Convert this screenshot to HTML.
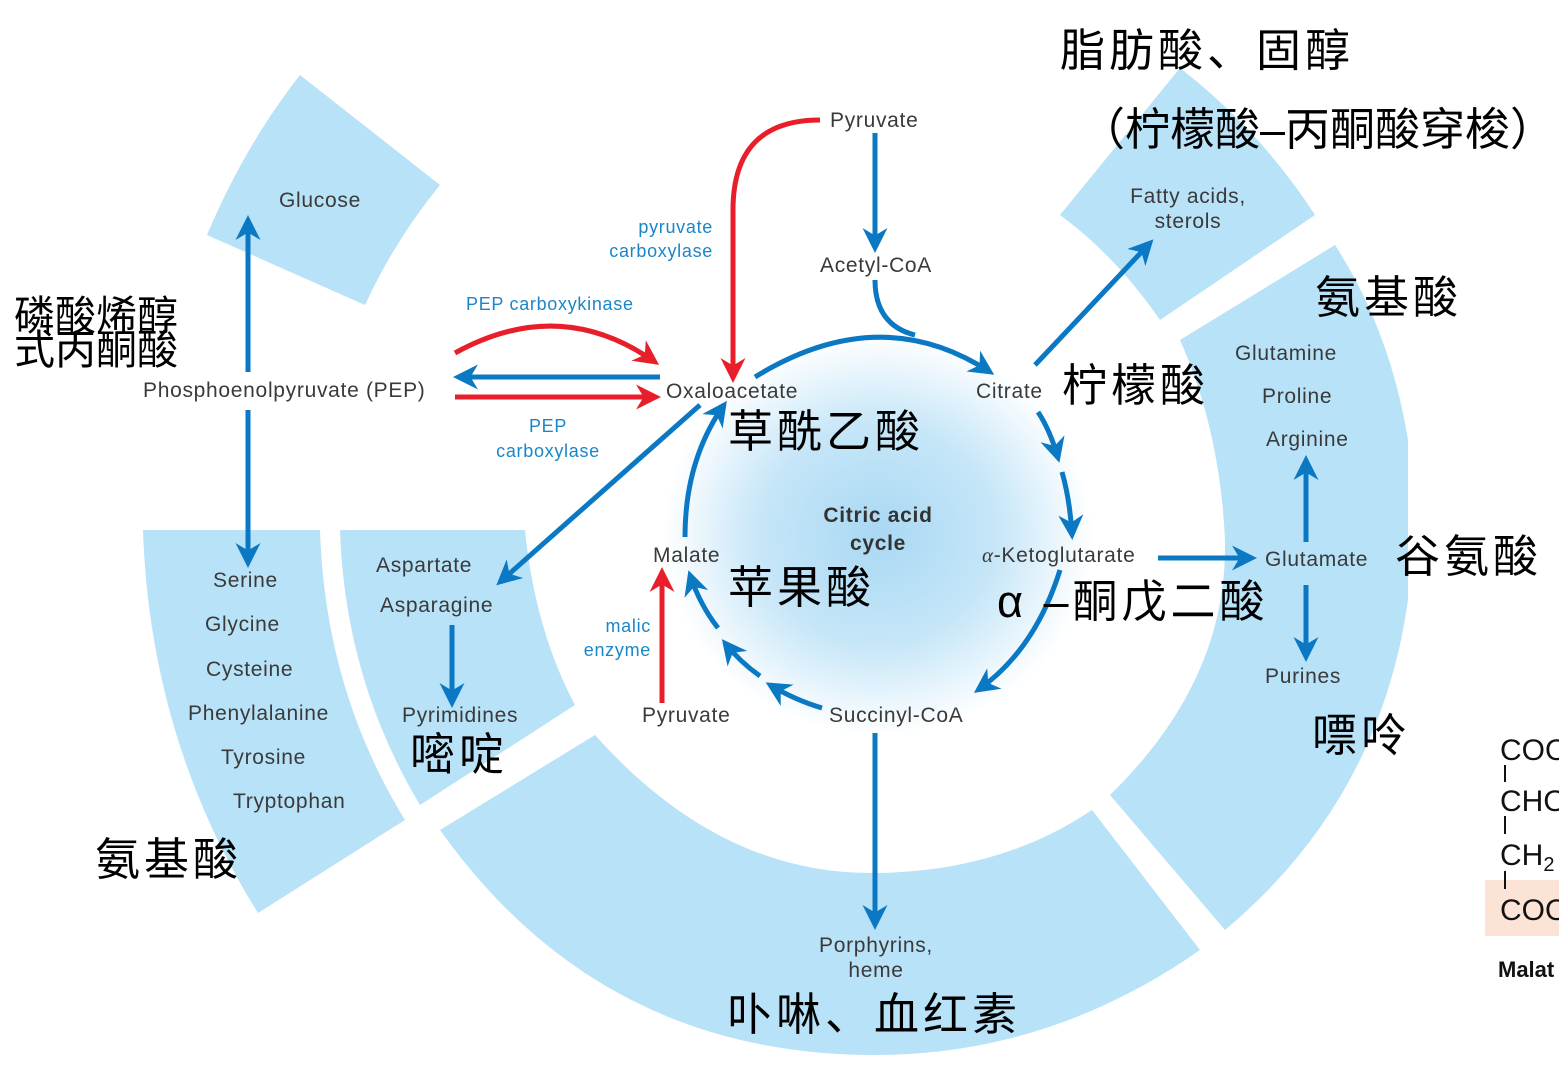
<!DOCTYPE html>
<html><head><meta charset="utf-8"><style>
html,body{margin:0;padding:0;background:#fff}
svg{display:block}
.e{font-family:"Liberation Sans",sans-serif;font-size:21px;fill:#3a3a3a;letter-spacing:0.7px}
.b{font-family:"Liberation Sans",sans-serif;font-size:18px;fill:#1a86c8;letter-spacing:0.7px}
.c{font-family:"Liberation Sans","Noto Sans CJK SC",sans-serif;font-size:45px;fill:#000;letter-spacing:4px}
.m{font-family:"Liberation Sans",sans-serif;font-size:30px;fill:#111}
</style></head><body>
<svg width="1559" height="1074" viewBox="0 0 1559 1074" xmlns="http://www.w3.org/2000/svg">
<defs>
<radialGradient id="g" cx="0.5" cy="0.5" r="0.5">
<stop offset="0" stop-color="#a9d8f3"/><stop offset="0.55" stop-color="#c6e6f8"/><stop offset="1" stop-color="#ffffff"/>
</radialGradient>
<marker id="ab" viewBox="0 0 10 10" refX="8" refY="5" markerWidth="5" markerHeight="5" orient="auto" markerUnits="strokeWidth"><path d="M0,0 L10,5 L0,10 L3,5 z" fill="#0a78c2"/></marker>
<marker id="ar" viewBox="0 0 10 10" refX="8" refY="5" markerWidth="5" markerHeight="5" orient="auto" markerUnits="strokeWidth"><path d="M0,0 L10,5 L0,10 L3,5 z" fill="#e81f2b"/></marker>
</defs>
<g fill="#b8e2f7">
<path d="M300,75 L440,185 Q395,240 365,305 L207,235 Q245,145 300,75 z"/>
<path d="M143,530 L320,530 Q325,690 405,820 L258,913 Q150,740 143,530 z"/>
<path d="M340,530 L525,530 Q535,630 575,705 L420,805 Q345,680 340,530 z"/>
<path d="M440,830 L595,735 Q720,875 875,873 Q1000,872 1092,810 L1200,950 Q1050,1055 875,1055 Q600,1055 440,830 z"/>
<path d="M1180,340 L1335,245 Q1390,330 1408,440 L1408,600 Q1380,800 1225,930 L1110,795 Q1228,680 1225,540 Q1220,430 1180,340 z"/>
<path d="M1060,215 L1180,68 Q1260,130 1315,215 L1160,320 Q1115,255 1060,215 z"/>
</g>
<ellipse cx="878" cy="535" rx="215" ry="200" fill="url(#g)"/>
<rect x="1485" y="880" width="74" height="56" fill="#fbe3d6"/>
<g fill="none" stroke="#0a78c2" stroke-width="5">
<path d="M248,372 L248,220" marker-end="url(#ab)"/>
<path d="M248,410 L248,563" marker-end="url(#ab)"/>
<path d="M660,377 L458,377" marker-end="url(#ab)"/>
<path d="M875,133 L875,248" marker-end="url(#ab)"/>
<path d="M875,280 Q875,325 915,335"/>
<path d="M755,377 Q880,300 990,372" marker-end="url(#ab)"/>
<path d="M1038,412 Q1050,430 1058,458" marker-end="url(#ab)"/>
<path d="M1062,472 Q1070,500 1072,535" marker-end="url(#ab)"/>
<path d="M1060,570 Q1035,650 978,690" marker-end="url(#ab)"/>
<path d="M822,708 Q795,700 770,685" marker-end="url(#ab)"/>
<path d="M760,676 Q740,662 725,643" marker-end="url(#ab)"/>
<path d="M718,628 Q700,605 690,575" marker-end="url(#ab)"/>
<path d="M685,537 Q685,460 724,405" marker-end="url(#ab)"/>
<path d="M700,405 L500,582" marker-end="url(#ab)"/>
<path d="M1035,365 L1150,243" marker-end="url(#ab)"/>
<path d="M452,625 L452,703" marker-end="url(#ab)"/>
<path d="M1158,558 L1252,558" marker-end="url(#ab)"/>
<path d="M1306,542 L1306,460" marker-end="url(#ab)"/>
<path d="M1306,585 L1306,657" marker-end="url(#ab)"/>
<path d="M875,733 L875,925" marker-end="url(#ab)"/>
</g>
<g fill="none" stroke="#e81f2b" stroke-width="5">
<path d="M455,397 L656,397" marker-end="url(#ar)"/>
<path d="M455,353 Q560,295 655,362" marker-end="url(#ar)"/>
<path d="M820,120 Q733,120 733,210 L733,378" marker-end="url(#ar)"/>
<path d="M662,703 L662,572" marker-end="url(#ar)"/>
</g>
<g class="e">
<text x="320" y="207" text-anchor="middle">Glucose</text>
<text x="143" y="397">Phosphoenolpyruvate (PEP)</text>
<text x="830" y="127">Pyruvate</text>
<text x="876" y="272" text-anchor="middle">Acetyl-CoA</text>
<text x="1188" y="203" text-anchor="middle">Fatty acids,</text>
<text x="1188" y="228" text-anchor="middle">sterols</text>
<text x="666" y="398">Oxaloacetate</text>
<text x="976" y="398">Citrate</text>
<text x="1235" y="360">Glutamine</text>
<text x="1262" y="403">Proline</text>
<text x="1266" y="446">Arginine</text>
<text x="1265" y="566">Glutamate</text>
<text x="1265" y="683">Purines</text>
<text x="982" y="562"><tspan font-style="italic" font-family="Liberation Serif">α</tspan>-Ketoglutarate</text>
<text x="213" y="587">Serine</text>
<text x="205" y="631">Glycine</text>
<text x="206" y="676">Cysteine</text>
<text x="188" y="720">Phenylalanine</text>
<text x="221" y="764">Tyrosine</text>
<text x="233" y="808">Tryptophan</text>
<text x="376" y="572">Aspartate</text>
<text x="380" y="612">Asparagine</text>
<text x="402" y="722">Pyrimidines</text>
<text x="653" y="562">Malate</text>
<text x="642" y="722">Pyruvate</text>
<text x="829" y="722">Succinyl-CoA</text>
<text x="876" y="952" text-anchor="middle">Porphyrins,</text>
<text x="876" y="977" text-anchor="middle">heme</text>
<text x="878" y="522" text-anchor="middle" font-weight="bold" fill="#333">Citric acid</text>
<text x="878" y="550" text-anchor="middle" font-weight="bold" fill="#333">cycle</text>
</g>
<g class="b">
<text x="713" y="233" text-anchor="end">pyruvate</text>
<text x="713" y="257" text-anchor="end">carboxylase</text>
<text x="466" y="310">PEP carboxykinase</text>
<text x="548" y="432" text-anchor="middle">PEP</text>
<text x="548" y="457" text-anchor="middle">carboxylase</text>
<text x="651" y="632" text-anchor="end">malic</text>
<text x="651" y="656" text-anchor="end">enzyme</text>
</g>
<g class="c">
<text x="1060" y="66">脂肪酸、固醇</text>
<text x="1080" y="145" letter-spacing="0">（柠檬酸–丙酮酸穿梭）</text>
<text x="14" y="330" font-size="41" letter-spacing="0">磷酸烯醇</text>
<text x="14" y="364" font-size="41" letter-spacing="0">式丙酮酸</text>
<text x="728" y="447">草酰乙酸</text>
<text x="1062" y="401">柠檬酸</text>
<text x="1315" y="313">氨基酸</text>
<text x="1395" y="572">谷氨酸</text>
<text x="997" y="617">α –酮戊二酸</text>
<text x="728" y="603">苹果酸</text>
<text x="1312" y="751">嘌呤</text>
<text x="410" y="770">嘧啶</text>
<text x="95" y="875">氨基酸</text>
<text x="727" y="1030">卟啉、血红素</text>
</g>
<g class="m">
<text x="1500" y="760">COO</text>
<text x="1500" y="811">CHO</text>
<text x="1500" y="865">CH<tspan font-size="20" dy="6">2</tspan></text>
<text x="1500" y="920">COO</text>
<text x="1498" y="977" font-size="22" font-weight="bold">Malat</text>
</g>
<g stroke="#111" stroke-width="2">
<line x1="1505" y1="765" x2="1505" y2="782"/>
<line x1="1505" y1="816" x2="1505" y2="834"/>
<line x1="1505" y1="871" x2="1505" y2="889"/>
</g>
</svg>
</body></html>
